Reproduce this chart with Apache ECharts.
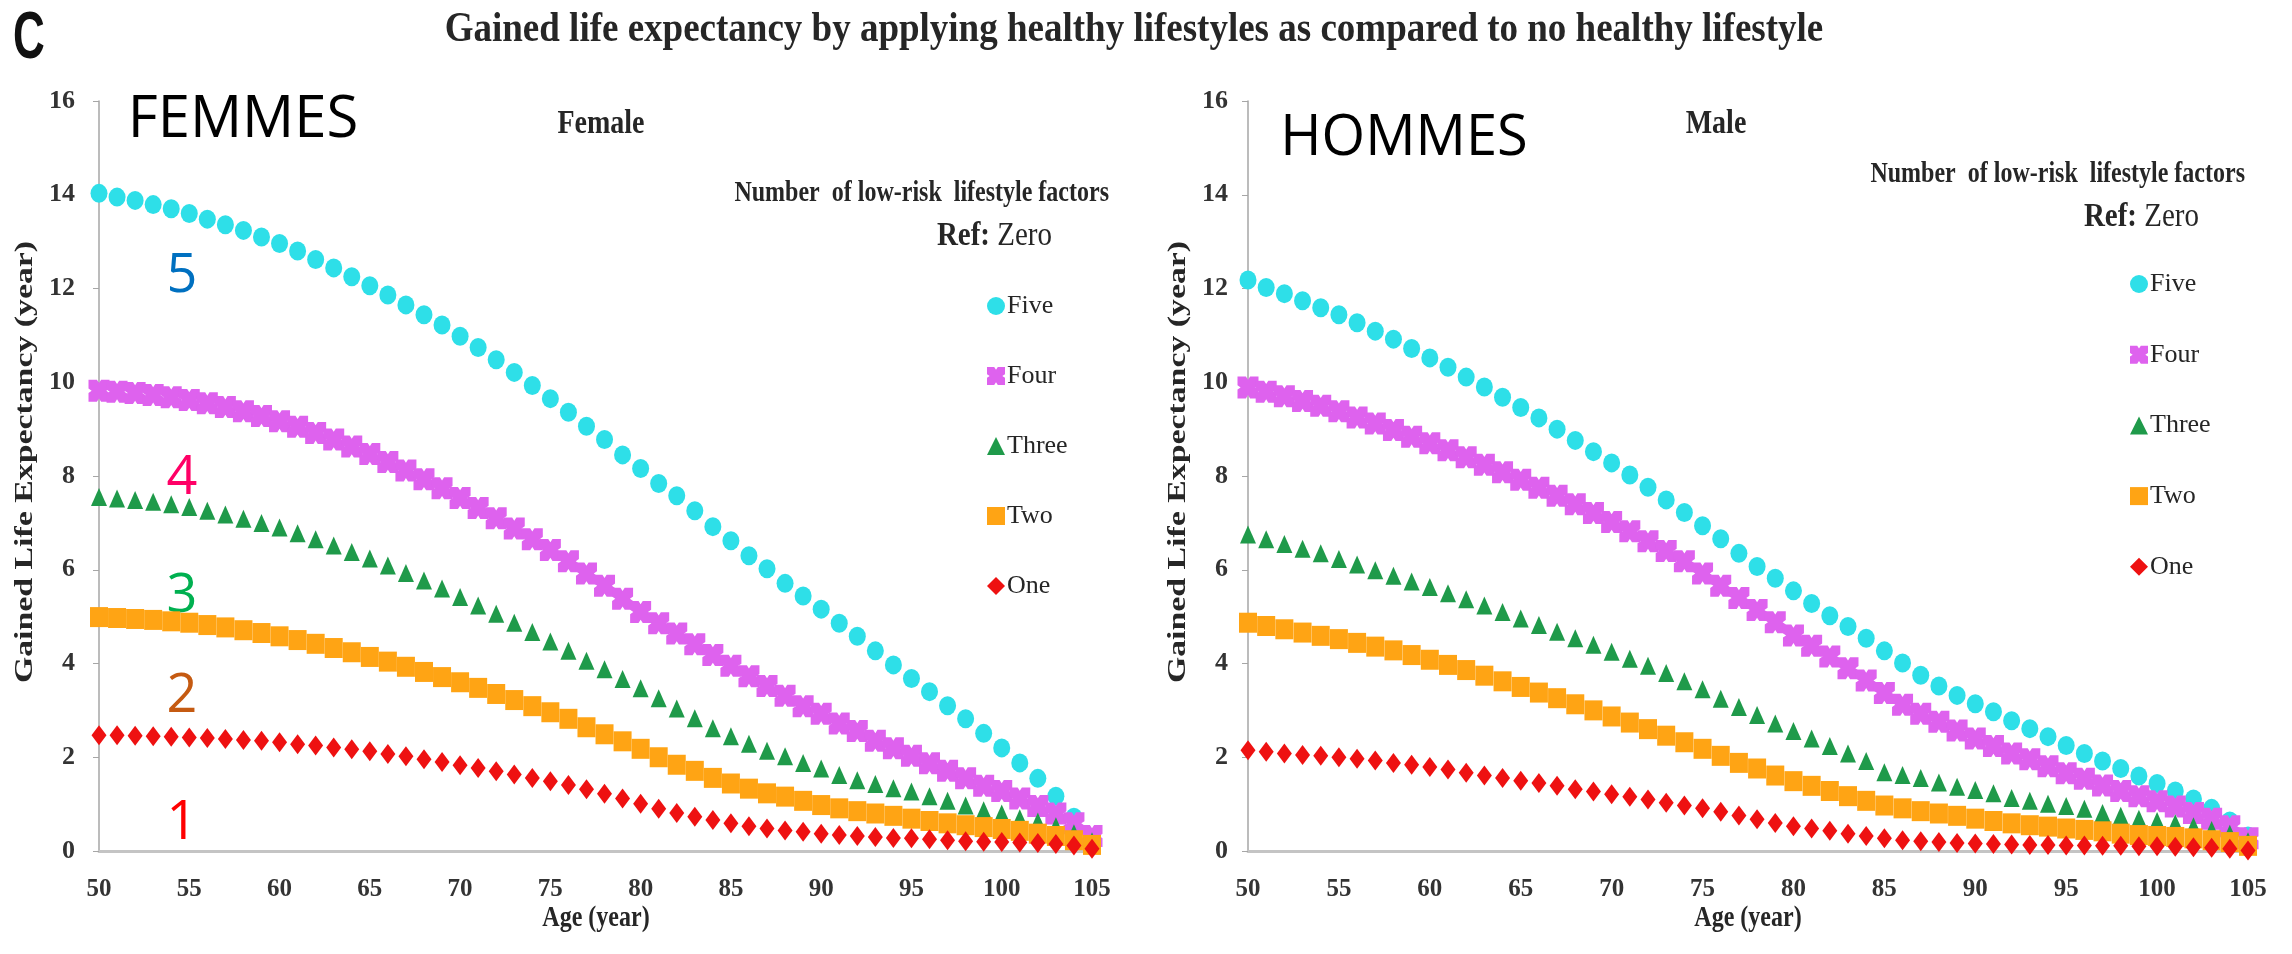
<!DOCTYPE html>
<html>
<head>
<meta charset="utf-8">
<script src="https://cdn.jsdelivr.net/npm/echarts@6/dist/echarts.min.js"></script>
<style>
  html, body { margin: 0; padding: 0; background: #fff; }
  #chart { width: 2292px; height: 954px; }
</style>
</head>
<body>
<div id="chart"></div>
<script>
// ages on the x axis, one point per year
var ages = [50, 51, 52, 53, 54, 55, 56, 57, 58, 59, 60, 61, 62, 63, 64, 65, 66, 67, 68, 69,
  70, 71, 72, 73, 74, 75, 76, 77, 78, 79, 80, 81, 82, 83, 84, 85, 86, 87, 88, 89,
  90, 91, 92, 93, 94, 95, 96, 97, 98, 99, 100, 101, 102, 103, 104, 105];

var legendNames = ['Five', 'Four', 'Three', 'Two', 'One'];

// female, gained years by number of low-risk factors
var femaleFive = [14.03, 13.95, 13.88, 13.79, 13.70, 13.60, 13.48, 13.36, 13.24, 13.10,
  12.96, 12.80, 12.62, 12.44, 12.25, 12.06, 11.86, 11.65, 11.44, 11.22,
  10.98, 10.74, 10.48, 10.21, 9.93, 9.65, 9.36, 9.06, 8.78, 8.45,
  8.16, 7.84, 7.58, 7.26, 6.92, 6.62, 6.30, 6.02, 5.71, 5.44,
  5.16, 4.86, 4.58, 4.27, 3.97, 3.68, 3.40, 3.10, 2.82, 2.51,
  2.20, 1.88, 1.55, 1.17, 0.72, 0.25];
var femaleFour = [9.82, 9.80, 9.77, 9.73, 9.68, 9.62, 9.55, 9.47, 9.38, 9.28,
  9.17, 9.05, 8.92, 8.78, 8.63, 8.47, 8.30, 8.12, 7.93, 7.74,
  7.53, 7.32, 7.10, 6.88, 6.65, 6.42, 6.18, 5.92, 5.66, 5.38,
  5.10, 4.86, 4.64, 4.41, 4.18, 3.95, 3.73, 3.52, 3.31, 3.09,
  2.93, 2.72, 2.56, 2.35, 2.19, 2.03, 1.87, 1.71, 1.55, 1.39,
  1.28, 1.12, 0.96, 0.80, 0.59, 0.32];
var femaleThree = [7.55, 7.52, 7.49, 7.45, 7.40, 7.34, 7.26, 7.18, 7.09, 7.00,
  6.90, 6.78, 6.65, 6.52, 6.38, 6.24, 6.09, 5.93, 5.77, 5.60,
  5.42, 5.24, 5.06, 4.87, 4.67, 4.47, 4.27, 4.06, 3.88, 3.67,
  3.47, 3.26, 3.04, 2.83, 2.62, 2.45, 2.29, 2.14, 2.02, 1.88,
  1.76, 1.62, 1.51, 1.43, 1.34, 1.27, 1.17, 1.07, 0.97, 0.87,
  0.80, 0.70, 0.63, 0.53, 0.38, 0.21];
var femaleTwo = [4.99, 4.97, 4.95, 4.93, 4.90, 4.87, 4.82, 4.77, 4.71, 4.65,
  4.58, 4.50, 4.42, 4.33, 4.24, 4.14, 4.04, 3.93, 3.82, 3.71,
  3.60, 3.48, 3.35, 3.22, 3.09, 2.96, 2.82, 2.64, 2.49, 2.34,
  2.18, 2.00, 1.84, 1.71, 1.56, 1.44, 1.33, 1.23, 1.16, 1.07,
  0.98, 0.91, 0.85, 0.80, 0.75, 0.69, 0.64, 0.59, 0.55, 0.51,
  0.47, 0.43, 0.37, 0.32, 0.23, 0.13];
var femaleOne = [2.47, 2.47, 2.46, 2.45, 2.44, 2.42, 2.41, 2.39, 2.37, 2.35,
  2.32, 2.28, 2.25, 2.21, 2.17, 2.13, 2.07, 2.02, 1.96, 1.90,
  1.83, 1.77, 1.70, 1.63, 1.56, 1.49, 1.41, 1.32, 1.22, 1.12,
  1.01, 0.90, 0.81, 0.73, 0.66, 0.59, 0.53, 0.48, 0.44, 0.41,
  0.37, 0.34, 0.32, 0.30, 0.28, 0.27, 0.25, 0.23, 0.21, 0.20,
  0.19, 0.18, 0.17, 0.15, 0.12, 0.05];

// male
var maleFive = [12.18, 12.02, 11.89, 11.74, 11.59, 11.44, 11.27, 11.09, 10.92, 10.72,
  10.52, 10.32, 10.11, 9.90, 9.68, 9.46, 9.24, 9.00, 8.76, 8.52,
  8.28, 8.02, 7.76, 7.49, 7.22, 6.94, 6.66, 6.35, 6.07, 5.82,
  5.55, 5.28, 5.02, 4.79, 4.54, 4.27, 4.01, 3.75, 3.52, 3.32,
  3.14, 2.97, 2.78, 2.61, 2.44, 2.25, 2.08, 1.92, 1.76, 1.60,
  1.44, 1.28, 1.11, 0.91, 0.64, 0.32];
var maleFour = [9.89, 9.80, 9.70, 9.60, 9.50, 9.38, 9.25, 9.12, 8.98, 8.84,
  8.70, 8.55, 8.40, 8.24, 8.08, 7.92, 7.75, 7.58, 7.40, 7.21,
  7.02, 6.82, 6.61, 6.40, 6.18, 5.92, 5.66, 5.40, 5.14, 4.88,
  4.60, 4.38, 4.15, 3.90, 3.64, 3.37, 3.12, 2.93, 2.76, 2.57,
  2.40, 2.24, 2.08, 1.96, 1.81, 1.66, 1.54, 1.40, 1.28, 1.17,
  1.06, 0.95, 0.81, 0.69, 0.53, 0.27];
var maleThree = [6.75, 6.65, 6.55, 6.45, 6.35, 6.23, 6.11, 5.99, 5.87, 5.75,
  5.63, 5.50, 5.37, 5.24, 5.10, 4.96, 4.82, 4.68, 4.54, 4.40,
  4.25, 4.10, 3.95, 3.80, 3.62, 3.45, 3.25, 3.07, 2.90, 2.72,
  2.56, 2.40, 2.24, 2.08, 1.92, 1.68, 1.62, 1.56, 1.46, 1.37,
  1.30, 1.23, 1.13, 1.07, 1.01, 0.96, 0.90, 0.81, 0.75, 0.69,
  0.64, 0.59, 0.53, 0.45, 0.37, 0.21];
var maleTwo = [4.87, 4.80, 4.73, 4.66, 4.59, 4.52, 4.44, 4.36, 4.28, 4.18,
  4.08, 3.97, 3.86, 3.74, 3.62, 3.50, 3.38, 3.26, 3.13, 3.00,
  2.87, 2.74, 2.60, 2.46, 2.32, 2.18, 2.03, 1.88, 1.76, 1.61,
  1.49, 1.39, 1.28, 1.17, 1.07, 0.97, 0.91, 0.85, 0.80, 0.75,
  0.69, 0.64, 0.59, 0.55, 0.52, 0.48, 0.45, 0.42, 0.37, 0.34,
  0.32, 0.30, 0.27, 0.23, 0.19, 0.11];
var maleOne = [2.15, 2.12, 2.08, 2.05, 2.03, 2.00, 1.97, 1.93, 1.88, 1.84,
  1.79, 1.74, 1.67, 1.61, 1.56, 1.50, 1.45, 1.39, 1.32, 1.27,
  1.21, 1.16, 1.10, 1.03, 0.97, 0.91, 0.84, 0.76, 0.68, 0.60,
  0.53, 0.48, 0.43, 0.37, 0.32, 0.27, 0.23, 0.21, 0.19, 0.17,
  0.16, 0.15, 0.14, 0.13, 0.13, 0.12, 0.12, 0.11, 0.11, 0.10,
  0.10, 0.09, 0.08, 0.07, 0.05, 0.01];

var serif = '"Liberation Serif", "Times New Roman", serif';
var ink = '#262626';

// marker look per factor count (Five .. One)
var markers = [
  { color: '#2EDFE8', symbol: 'circle', size: [17, 19] },
  { color: '#DE62EE', symbol: 'path://M0,0 H4 L5,1.5 L6,0 H10 V4 L8.5,5 L10,6 V10 H6 L5,8.5 L4,10 H0 V6 L1.5,5 L0,4 Z', size: [21, 22] },
  { color: '#1F9A4A', symbol: 'triangle', size: [16, 18] },
  { color: '#FFA414', symbol: 'rect', size: [18, 20] },
  { color: '#EE1111', symbol: 'diamond', size: [15, 20] }
];

function pairs(values) {
  return ages.map(function (a, i) { return [a, values[i]]; });
}

function makeSeries(sets, axisIdx) {
  return sets.map(function (vals, k) {
    return {
      name: legendNames[k],
      type: 'scatter',
      xAxisIndex: axisIdx,
      yAxisIndex: axisIdx,
      symbol: markers[k].symbol,
      symbolSize: markers[k].size,
      itemStyle: { color: markers[k].color, opacity: 1 },
      data: pairs(vals)
    };
  });
}

function xAx(idx) {
  return {
    type: 'value', gridIndex: idx, min: 50, max: 105, interval: 5,
    axisLine: { show: true, onZero: false, lineStyle: { color: '#C4C4C4', width: 3 } },
    axisTick: { show: false },
    splitLine: { show: false },
    axisLabel: { fontFamily: serif, fontWeight: 'bold', fontSize: 25, color: '#333', margin: 26 }
  };
}

function yAx(idx, margin) {
  return {
    type: 'value', gridIndex: idx, min: 0, max: 16, interval: 2,
    axisLine: { show: true, lineStyle: { color: '#A6A6A6', width: 1.5 } },
    axisTick: { show: true, length: 6, lineStyle: { color: '#A6A6A6' } },
    splitLine: { show: false },
    axisLabel: { fontFamily: serif, fontWeight: 'bold', fontSize: 26, color: '#333', margin: margin }
  };
}

function txt(x, y, text, o) {
  o = o || {};
  return {
    type: 'text', x: x, y: y,
    rotation: o.rotation || 0,
    scaleX: o.sx || 1, scaleY: o.sy || 1,
    style: {
      text: text,
      fontFamily: o.family || serif,
      fontWeight: o.weight || 'bold',
      fontSize: o.size || 24,
      fill: o.fill || ink,
      align: o.align || 'center',
      verticalAlign: 'middle',
      rich: o.rich
    }
  };
}

var refRich = {
  b: { fontFamily: serif, fontWeight: 'bold', fontSize: 29, fill: ink },
  r: { fontFamily: serif, fontWeight: 'normal', fontSize: 29, fill: ink }
};

var sans = '"Open Sans", sans-serif';

var chart = echarts.init(document.getElementById('chart'));

chart.setOption({
  backgroundColor: '#fff',
  animation: false,
  grid: [
    { left: 99, top: 101, width: 993, height: 750 },
    { left: 1248, top: 101, width: 1000, height: 750 }
  ],
  xAxis: [xAx(0), xAx(1)],
  yAxis: [yAx(0, 24), yAx(1, 20)],
  legend: [
    {
      data: legendNames, orient: 'vertical', left: 982, top: 288,
      itemWidth: 18, itemHeight: 18, itemGap: 44, selectedMode: false,
      textStyle: { fontFamily: serif, fontSize: 26, color: ink, lineHeight: 26, padding: [0, 0, 0, -3] }
    },
    {
      data: legendNames, orient: 'vertical', left: 2125, top: 266,
      itemWidth: 18, itemHeight: 18, itemGap: 44.7, selectedMode: false,
      textStyle: { fontFamily: serif, fontSize: 26, color: ink, lineHeight: 26, padding: [0, 0, 0, -3] }
    }
  ],
  graphic: [
    txt(29, 40, 'C', { family: '"Liberation Sans", Arial, sans-serif', size: 44, sy: 1.5, fill: '#111' }),
    txt(1134, 30, 'Gained life expectancy by applying healthy lifestyles as compared to no healthy lifestyle', { size: 37, sy: 1.15 }),
    txt(601, 124, 'Female', { size: 28, sy: 1.2 }),
    txt(1716, 124, 'Male', { size: 28, sy: 1.2 }),
    txt(1109, 194, 'Number  of low-risk  lifestyle factors', { size: 24, align: 'right', sy: 1.2 }),
    txt(1052, 236, '{b|Ref:} {r|Zero}', { size: 29, align: 'right', sy: 1.15, rich: refRich }),
    txt(2245, 175, 'Number  of low-risk  lifestyle factors', { size: 24, align: 'right', sy: 1.2 }),
    txt(2199, 217, '{b|Ref:} {r|Zero}', { size: 29, align: 'right', sy: 1.15, rich: refRich }),
    txt(25, 462, 'Gained Life Expectancy (year)', { size: 26, rotation: Math.PI / 2, sx: 1.3 }),
    txt(1178, 462, 'Gained Life Expectancy (year)', { size: 26, rotation: Math.PI / 2, sx: 1.3 }),
    txt(596, 919, 'Age (year)', { size: 24, sy: 1.2 }),
    txt(1748, 919, 'Age (year)', { size: 24, sy: 1.2 }),
    // annotations added on top of the figure
    txt(243, 120, 'FEMMES', { family: sans, weight: 'normal', size: 58, fill: '#000' }),
    txt(1404, 139, 'HOMMES', { family: sans, weight: 'normal', size: 56, fill: '#000' }),
    txt(182, 277, '5', { family: sans, weight: 'normal', size: 54, fill: '#0070C0' }),
    txt(182, 479, '4', { family: sans, weight: 'normal', size: 54, fill: '#FF0066' }),
    txt(182, 597, '3', { family: sans, weight: 'normal', size: 54, fill: '#00B050' }),
    txt(182, 697, '2', { family: sans, weight: 'normal', size: 54, fill: '#C55A11' }),
    txt(182, 824, '1', { family: sans, weight: 'normal', size: 54, fill: '#FF0000' })
  ],
  series: makeSeries([femaleFive, femaleFour, femaleThree, femaleTwo, femaleOne], 0)
    .concat(makeSeries([maleFive, maleFour, maleThree, maleTwo, maleOne], 1))
});
</script>
</body>
</html>
